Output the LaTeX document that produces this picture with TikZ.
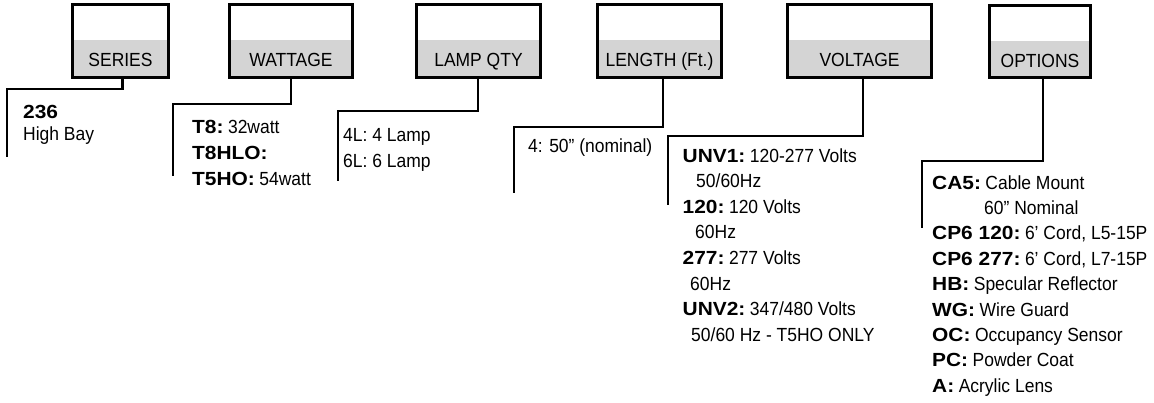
\documentclass[tikz,border=0pt]{standalone}
\usepackage{fontspec}
\setmainfont{Liberation Sans}[FakeStretch=0.92]
\newfontfamily\bfw{Liberation Sans}[FakeStretch=1.1]
\newcommand\KB[1]{{\bfw\bfseries #1}\hspace{4.5pt}}
\definecolor{boxgray}{RGB}{212,212,212}
\begin{document}
\begin{tikzpicture}[x=1pt,y=-1pt,
  codebox/.style={draw=black, line width=2.6pt, fill=boxgray, inner sep=0pt,
    minimum height=73.4pt,
    path picture={\fill[white] (path picture bounding box.north west) rectangle ([yshift=-36pt]path picture bounding box.north east);}},
  lbl/.style={anchor=base, inner sep=0pt, font=\fontsize{19pt}{23pt}\selectfont},
  txt/.style={anchor=base west, inner sep=0pt, font=\fontsize{19pt}{23pt}\selectfont},
  conn/.style={draw=black, line width=2.4pt, line join=miter}]
\useasboundingbox (0,0) rectangle (1154,402);

% boxes
\node[codebox, minimum width=96.4pt]  (series)  at (120.5,41) {};
\node[codebox, minimum width=123.4pt] (watt)    at (291,41) {};
\node[codebox, minimum width=124.4pt] (lamp)    at (478.5,41) {};
\node[codebox, minimum width=124.4pt] (length)  at (659.5,41) {};
\node[codebox, minimum width=144.4pt] (volt)    at (859.5,41) {};
\node[codebox, minimum width=101.4pt, minimum height=72.4pt] (opt) at (1040,41.5) {};

\node[lbl] (seriesT) at (series.center |- 0,66) {SERIES};
\node[lbl] (wattT)   at (watt.center |- 0,66) {WATTAGE};
\node[lbl] (lampT)   at (lamp.center |- 0,66) {LAMP QTY};
\node[lbl] (lengthT) at (length.center |- 0,66) {LENGTH (Ft.)};
\node[lbl] (voltT)   at (volt.center |- 0,66) {VOLTAGE};
\node[lbl] (optT)    at (opt.center |- 0,67) {OPTIONS};

% connector ends
\coordinate (sE) at (7,157);
\coordinate (wE) at (173,176);
\coordinate (lE) at (338,181);
\coordinate (nE) at (514,193);
\coordinate (vE) at (668,205);
\coordinate (oE) at (922,228);

\draw[conn] ([xshift=2pt]series.south) |- (sE |- 0,89) -- (sE);
\draw[conn] (watt.south) |- (wE |- 0,104) -- (wE);
\draw[conn] ([xshift=-0.5pt]lamp.south) |- (lE |- 0,111) -- (lE);
\draw[conn] ([xshift=3.5pt]length.south) |- (nE |- 0,127) -- (nE);
\draw[conn] ([xshift=3.5pt]volt.south) |- (vE |- 0,136) -- (vE);
\draw[conn] ([xshift=3pt]opt.south) |- (oE |- 0,161) -- (oE);

% series text
\node[txt] (s1) at (23,118) {{\bfw\bfseries 236}};
\node[txt] (s2) at (23,140) {High Bay};

% wattage text
\node[txt] (w1) at (192,133) {\KB{T8:}32watt};
\node[txt] (w2) at (192,159) {{\bfw\bfseries T8HLO:}};
\node[txt] (w3) at (192,185) {\KB{T5HO:}54watt};

% lamp qty text
\node[txt] (l1) at (343,141) {4L: 4 Lamp};
\node[txt] (l2) at (343,167) {6L: 6 Lamp};

% length text
\node[txt] (n1) at (528,152) {4: 50” (nominal)};

% voltage text
\node[txt] (v1) at (682.5,162)   {\KB{UNV1:}120-277 Volts};
\node[txt] (v2) at (696,187.6)   {50/60Hz};
\node[txt] (v3) at (682.5,213.2) {\KB{120:}120 Volts};
\node[txt] (v4) at (695,238.8)   {60Hz};
\node[txt] (v5) at (682.5,264.4) {\KB{277:}277 Volts};
\node[txt] (v6) at (690,290)     {60Hz};
\node[txt] (v7) at (682.5,315.6) {\KB{UNV2:}347/480 Volts};
\node[txt] (v8) at (691,341.2)   {50/60 Hz - T5HO ONLY};

% options text
\node[txt] (o1) at (932,189)   {\KB{CA5:}Cable Mount};
\node[txt] (o2) at (984,214.4) {60” Nominal};
\node[txt] (o3) at (932,239.8) {\KB{CP6 120:}6’ Cord, L5-15P};
\node[txt] (o4) at (932,265.2) {\KB{CP6 277:}6’ Cord, L7-15P};
\node[txt] (o5) at (932,290.6) {\KB{HB:}Specular Reflector};
\node[txt] (o6) at (932,316)   {\KB{WG:}Wire Guard};
\node[txt] (o7) at (932,341.4) {\KB{OC:}Occupancy Sensor};
\node[txt] (o8) at (932,366.8) {\KB{PC:}Powder Coat};
\node[txt] (o9) at (932,392.2) {\KB{A:}Acrylic Lens};
\end{tikzpicture}
\end{document}
